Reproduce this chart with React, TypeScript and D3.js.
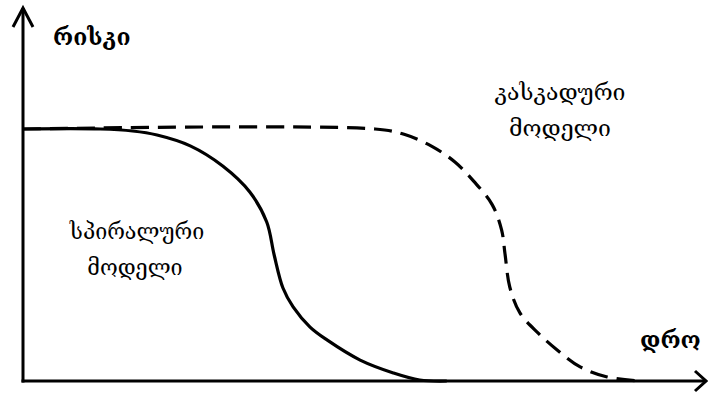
import React from "react";
import * as d3 from "d3";

const spiralTime = [0, 1.14, 1.62, 1.98, 2.47, 2.95, 3.35, 3.6, 3.71, 3.84, 3.99, 4.24, 4.49, 4.98, 5.47, 5.86, 6.26];
const spiralRisk = [1, 1, 0.992, 0.976, 0.933, 0.853, 0.75, 0.631, 0.5, 0.369, 0.294, 0.214, 0.163, 0.083, 0.032, 0.004, 0];

const cascadeTime = [0, 5.2, 5.64, 6.04, 6.38, 6.66, 6.93, 7.07, 7.12, 7.19, 7.34, 7.61, 7.89, 8.23, 8.63, 9.11];
const cascadeRisk = [1, 1, 0.978, 0.931, 0.869, 0.792, 0.7, 0.599, 0.504, 0.373, 0.27, 0.19, 0.123, 0.056, 0.016, 0];

const yAxisLabel = "რისკი";
const xAxisLabel = "დრო";
const spiralLabel = ["სპირალური", "მოდელი"];
const cascadeLabel = ["კასკადური", "მოდელი"];

const W = 708;
const H = 396;

export default function App() {
  const x = d3.scaleLinear().domain([0, 10]).range([23, 700]);
  const y = d3.scaleLinear().domain([0, 1]).range([381, 129]);

  const line = d3
    .line<[number, number]>()
    .x((d) => x(d[0]))
    .y((d) => y(d[1]))
    .curve(d3.curveCatmullRom.alpha(0.5));

  const spiral = spiralTime.map((t, i) => [t, spiralRisk[i]] as [number, number]);
  const cascade = cascadeTime.map((t, i) => [t, cascadeRisk[i]] as [number, number]);

  const font = "'DejaVu Serif', serif";
  const x0 = x(0);
  const yBase = y(0);

  return (
    <svg
      width={W}
      height={H}
      style={{ position: "absolute", left: 0, top: 0, background: "#fff" }}
    >
      <path d={line(cascade) || ""} fill="none" stroke="#000" strokeWidth={3.2} strokeDasharray="18 9" />
      <path d={line(spiral) || ""} fill="none" stroke="#000" strokeWidth={3.2} />
      {/* axes */}
      <line x1={x0} y1={yBase + 1.5} x2={x0} y2={8} stroke="#000" strokeWidth={3} />
      <polyline points={`${x0 - 10},27 ${x0},8 ${x0 + 10},27`} fill="none" stroke="#000" strokeWidth={3} />
      <line x1={x0 - 1.5} y1={yBase} x2={706} y2={yBase} stroke="#000" strokeWidth={3} />
      <polyline points={`695,${yBase - 10} 706,${yBase} 695,${yBase + 10}`} fill="none" stroke="#000" strokeWidth={3} />
      <text x={53} y={45} fontFamily={font} fontWeight="bold" fontSize={23}>{yAxisLabel}</text>
      <text x={640} y={348} fontFamily={font} fontWeight="bold" fontSize={23}>{xAxisLabel}</text>
      <text textAnchor="middle" fontFamily={font} fontSize={21.5}>
        <tspan x={137} y={239}>{spiralLabel[0]}</tspan>
        <tspan x={135} y={275}>{spiralLabel[1]}</tspan>
      </text>
      <text textAnchor="middle" fontFamily={font} fontSize={23}>
        <tspan x={560} y={100}>{cascadeLabel[0]}</tspan>
        <tspan x={560} y={136}>{cascadeLabel[1]}</tspan>
      </text>
    </svg>
  );
}
